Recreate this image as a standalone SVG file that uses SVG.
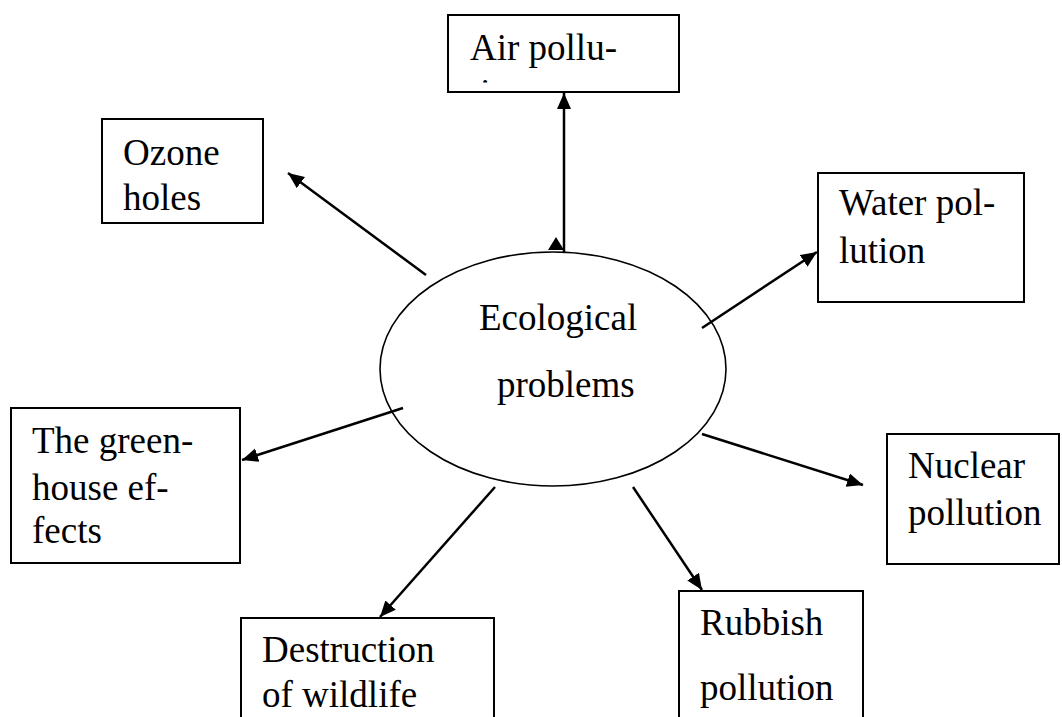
<svg xmlns="http://www.w3.org/2000/svg" width="1062" height="717" viewBox="0 0 1062 717">
<style>
  .box { fill: #ffffff; stroke: #000000; stroke-width: 2; }
  .lbl { font-family: "Liberation Serif", "Times New Roman", serif; font-size: 37px; fill: #000000; }
  .conn { stroke: #000000; stroke-width: 2.5; fill: none; marker-end: url(#arrow); }
</style>
<defs>
  <marker id="arrow" markerUnits="userSpaceOnUse" markerWidth="18" markerHeight="16" refX="16" refY="7" orient="auto">
    <path d="M0,0 L16,7 L0,14 z" fill="#000000"/>
  </marker>
  <clipPath id="airclip"><rect x="448" y="15" width="231" height="67.5"/></clipPath>
</defs>
<rect width="1062" height="717" fill="#ffffff"/>

<g id="center">
  <ellipse cx="553" cy="369" rx="173" ry="117" fill="#ffffff" stroke="#000000" stroke-width="1.6"/>
  <text class="lbl" x="479" y="330">Ecological</text>
  <text class="lbl" x="497" y="397">problems</text>
</g>

<g id="air">
  <rect class="box" x="448" y="15" width="231" height="77"/>
  <text class="lbl" x="470" y="60">Air pollu-</text>
  <text class="lbl" x="470" y="105" clip-path="url(#airclip)">tion</text>
</g>

<g id="ozone">
  <rect class="box" x="102" y="119" width="161" height="104"/>
  <text class="lbl" x="123" y="165">Ozone</text>
  <text class="lbl" x="123" y="210">holes</text>
</g>

<g id="water">
  <rect class="box" x="818" y="173" width="206" height="129"/>
  <text class="lbl" x="839" y="215">Water pol-</text>
  <text class="lbl" x="839" y="263">lution</text>
</g>

<g id="greenhouse">
  <rect class="box" x="11" y="408" width="229" height="155"/>
  <text class="lbl" x="32" y="453">The green-</text>
  <text class="lbl" x="32" y="500">house ef-</text>
  <text class="lbl" x="32" y="543">fects</text>
</g>

<g id="nuclear">
  <rect class="box" x="887" y="434" width="172" height="130"/>
  <text class="lbl" x="908" y="478">Nuclear</text>
  <text class="lbl" x="908" y="525">pollution</text>
</g>

<g id="destruction">
  <rect class="box" x="241" y="618" width="253" height="110"/>
  <text class="lbl" x="262" y="662">Destruction</text>
  <text class="lbl" x="262" y="707">of wildlife</text>
</g>

<g id="rubbish">
  <rect class="box" x="679" y="591" width="184" height="140"/>
  <text class="lbl" x="700" y="635">Rubbish</text>
  <text class="lbl" x="700" y="700">pollution</text>
</g>

<g id="connectors">
  <line class="conn" x1="564" y1="252" x2="564" y2="93"/>
  <polygon points="556,237 548,250 564,250" fill="#000000"/>
  <line class="conn" x1="426" y1="275" x2="288" y2="173"/>
  <line class="conn" x1="702" y1="328" x2="817" y2="252"/>
  <line class="conn" x1="403" y1="408" x2="242" y2="460"/>
  <line class="conn" x1="702" y1="434" x2="863" y2="485"/>
  <line class="conn" x1="495" y1="487" x2="380" y2="617"/>
  <line class="conn" x1="633" y1="487" x2="702" y2="590"/>
</g>
</svg>
